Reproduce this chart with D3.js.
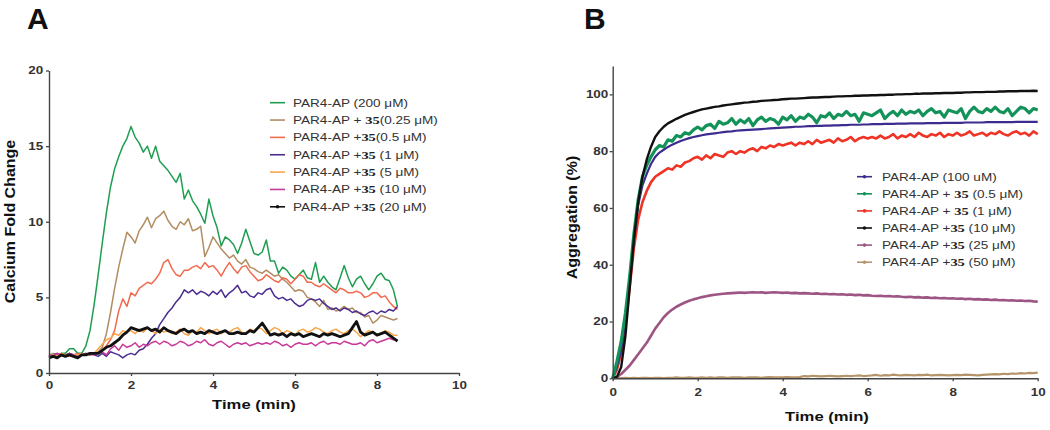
<!DOCTYPE html>
<html><head><meta charset="utf-8">
<script src="https://cdn.jsdelivr.net/npm/d3@7"></script>
<style>body{margin:0;background:#fff} svg{display:block}</style>
</head><body>
<svg id="c" width="1050" height="430"></svg>
<script>
// ---------------- Panel A data (calcium fold change, sampled every 0.1 min) ----------------
const stepA = 0.1;
const xTicksA = [0, 2, 4, 6, 8, 10];
const yTicksA = [0, 5, 10, 15, 20];
const greenA = [1.1,1.2,1.2,1.3,1.3,1.6,1.6,1.3,1.3,1.8,
 2.8,4.5,6.5,8.6,10.6,12.3,13.5,14.3,15.0,15.5,
 16.3,15.6,15.2,14.6,15.0,14.2,15.0,14.0,13.7,13.4,
 13.0,12.6,13.2,11.5,12.1,11.4,11.0,10.5,9.9,11.5,
 10.4,9.6,8.4,9.0,8.8,8.5,7.9,8.6,9.5,8.7,
 7.9,7.8,8.0,8.8,7.4,7.4,6.6,7.0,6.8,6.4,
 6.2,6.5,6.8,6.3,6.2,7.3,6.0,6.4,6.0,5.7,
 5.5,6.3,7.1,6.3,5.7,6.2,6.4,5.9,5.5,5.9,
 6.4,6.6,6.2,6.1,5.5,4.4];
const brownA = [1.2,1.3,1.2,1.1,1.2,1.3,1.2,1.3,1.2,1.3,
 1.2,1.3,1.4,1.7,2.6,4.0,5.6,7.0,8.2,9.3,
 9.0,8.6,9.4,9.8,10.3,9.6,10.2,10.4,10.7,10.1,
 9.7,9.5,10.0,9.8,10.2,9.4,9.5,9.7,7.7,8.3,
 9.0,8.6,8.2,7.9,7.6,7.8,7.4,7.2,7.5,7.0,
 6.9,6.7,6.6,6.8,6.6,6.4,6.5,6.2,6.0,5.7,
 5.4,5.5,5.4,5.0,4.9,4.7,4.4,4.8,4.2,4.3,
 4.1,4.2,4.4,4.2,4.3,4.0,4.0,3.7,3.8,3.3,
 3.5,3.8,3.7,3.6,3.5,3.6];
const redA = [1.2,1.1,1.2,1.3,1.2,1.1,1.2,1.3,1.2,1.3,
 1.2,1.3,1.3,1.5,1.8,2.2,2.8,4.1,4.9,4.4,
 5.3,5.1,5.6,5.8,6.0,5.9,6.2,6.6,7.3,7.5,
 6.9,6.5,6.4,6.8,6.8,7.0,7.1,6.9,7.3,7.0,
 7.1,6.8,6.4,6.9,7.3,6.9,6.6,7.0,7.1,6.7,
 6.4,6.1,6.2,6.5,6.3,6.1,6.0,6.3,6.2,5.9,
 6.2,6.5,6.4,6.0,6.0,5.8,5.7,5.9,5.7,5.5,
 5.3,5.6,5.5,5.3,5.3,5.4,5.3,5.0,5.1,5.3,
 5.3,5.0,5.1,4.7,4.4,4.2];
const purpleA = [1.1,1.2,1.3,1.2,1.2,1.3,1.2,1.2,1.3,1.2,
 1.3,1.2,1.1,1.3,1.1,1.4,1.3,1.2,1.0,1.2,
 1.3,1.2,1.5,1.6,1.9,2.3,2.6,3.2,3.6,4.0,
 4.3,4.7,5.0,5.5,5.3,5.5,5.2,5.4,5.3,5.1,
 5.4,5.2,5.5,5.0,5.3,5.5,5.8,5.3,5.4,5.1,
 5.0,5.3,5.2,5.5,5.6,5.1,4.9,5.0,4.8,4.9,
 4.6,4.4,4.5,4.8,4.9,4.8,4.9,4.6,4.4,4.2,
 4.3,4.1,4.3,4.2,4.0,4.1,3.9,3.8,4.0,4.1,
 3.9,4.1,4.0,4.2,4.1,4.4];
const orangeA = [1.1,1.2,1.1,1.3,1.2,1.1,1.2,1.2,1.3,1.2,
 1.3,1.3,1.6,1.9,2.2,2.3,2.6,2.5,2.8,2.7,
 2.8,2.6,2.9,2.7,3.0,2.8,2.6,2.9,2.7,2.8,
 2.6,2.7,2.9,2.6,2.5,2.8,2.7,3.0,2.8,2.6,
 2.8,2.9,2.6,2.8,2.7,2.9,3.0,2.7,2.6,2.9,
 2.8,3.0,2.9,2.6,2.8,3.0,2.9,2.6,2.8,2.7,
 2.5,2.8,2.9,2.7,2.8,3.0,2.9,2.7,2.6,2.8,
 2.9,2.7,2.6,2.8,2.9,2.7,2.4,2.6,2.8,2.7,
 2.5,2.6,2.8,2.7,2.5,2.5];
const magentaA = [1.2,1.1,1.3,1.2,1.1,1.3,1.2,1.1,1.2,1.3,
 1.2,1.2,1.3,1.4,1.2,1.6,1.8,1.5,1.9,1.7,
 1.8,2.0,1.7,1.9,1.8,2.0,2.1,1.9,2.1,2.0,
 1.8,1.9,2.1,2.0,1.8,1.9,2.1,2.0,2.2,1.9,
 1.8,2.0,2.1,1.9,1.7,1.9,2.0,1.9,2.0,1.8,
 1.9,2.0,1.9,2.0,1.9,2.1,2.0,1.8,1.9,1.7,
 1.9,2.0,1.9,1.9,2.0,1.8,2.0,2.1,1.9,2.0,
 2.0,1.9,2.1,2.0,1.9,1.9,2.0,1.8,2.1,2.2,
 2.0,2.1,2.2,2.3,2.2,2.2];
const blackA = [1.0,1.1,1.0,1.2,1.1,1.2,1.1,1.0,1.2,1.2,
 1.3,1.3,1.3,1.5,1.7,1.8,2.0,2.2,2.5,2.7,
 3.0,2.9,2.8,2.9,3.0,2.8,2.9,2.7,3.0,2.8,
 2.7,2.6,2.8,2.9,2.7,2.8,2.6,2.7,2.6,2.8,
 2.7,2.6,2.7,2.8,2.6,2.6,2.7,2.6,2.6,2.8,
 2.7,3.0,3.3,2.9,2.5,2.6,2.5,2.6,2.4,2.6,
 2.5,2.6,2.4,2.5,2.6,2.5,2.4,2.6,2.5,2.6,
 2.5,2.4,2.5,2.6,3.0,3.4,2.7,2.5,2.6,2.7,
 2.5,2.6,2.7,2.5,2.3,2.1];

// ---------------- Panel B data (aggregation %, sampled every 0.1 min) ----------------
const stepB = 0.1;
const xTicksB = [0, 2, 4, 6, 8, 10];
const yTicksB = [0, 20, 40, 60, 80, 100];
const purpleB = [0,4,10,20,34,49,61,68,72,75.5,
 78,79.5,80.5,81.5,82.3,83,83.6,84.1,84.6,85,
 85.3,85.6,85.9,86.1,86.3,86.5,86.7,86.9,87.0,87.2,
 87.3,87.4,87.5,87.6,87.7,87.8,87.9,88.0,88.1,88.2,
 88.3,88.4,88.5,88.6,88.6,88.7,88.8,88.8,88.9,88.9,
 89.0,89.0,89.1,89.1,89.2,89.2,89.3,89.3,89.3,89.4,
 89.4,89.5,89.5,89.5,89.6,89.6,89.6,89.7,89.7,89.7,
 89.8,89.8,89.8,89.8,89.9,89.9,89.9,89.9,90.0,90.0,
 90.0,90.0,90.0,90.1,90.1,90.1,90.1,90.1,90.2,90.2,
 90.2,90.2,90.2,90.2,90.2,90.3,90.3,90.3,90.3,90.3,
 90.3];
const greenB = [0,6,13,23,36,51,63,71,75,78,
 80.5,82,81.5,84,83.5,85.5,85,86.5,86,87.5,
 88.5,87.5,89,89.5,88,90.5,89.5,90,91.5,89.5,
 91,90,91.5,89,91,92,90.5,91.5,91,89.5,
 92,91,92.5,90.5,92,91.5,93,92,90,92.5,
 92,93.5,91.5,93,92.5,94,92.5,93,90.5,93.5,
 93,92.5,93.5,94.5,91.5,93,94,92.5,94.5,93,
 94,93.5,94.5,92.5,94,95,93.5,94,92,94.5,
 94,93.5,95,91.5,94,95.5,94,93.5,95,94,
 95.5,94,93.5,95,92.5,94,95.5,95,93.5,95,
 94.5];
const redB = [0,3,9,19,32,46,56,62,66,69,
 71,72,73,74,73.5,75,74.5,76,76.5,77.5,
 78,77,78.5,77.5,79,78.5,78,79.5,80,79,
 80,79.5,80.5,81,80,81.5,81,82,81.5,82.5,
 82,82.5,83,82,83,82.5,83.5,82.5,84,83,
 83.5,84,83,84.5,83.5,84,85,83.5,84.5,85,
 84.5,85,84.5,85.5,84.5,85,86,84.5,85.5,85,
 86,85,86.5,85.5,85,86,85.5,86.5,85,86,
 85.5,86.5,85.5,86,87,85.5,86,86.5,85.5,86.5,
 86,87,86,85.5,86.5,87,86,86.5,85.5,87,
 86];
const blackB = [0,0.5,4,15,32,49,62,71,77,81.5,
 85,87,88.6,89.8,90.6,91.4,92.1,92.8,93.3,93.8,
 94.3,94.7,95.0,95.3,95.6,95.8,96.1,96.3,96.5,96.7,
 96.9,97.1,97.2,97.4,97.5,97.7,97.8,97.9,98.0,98.1,
 98.3,98.4,98.5,98.5,98.6,98.7,98.8,98.9,98.9,99.0,
 99.1,99.1,99.2,99.3,99.3,99.4,99.4,99.5,99.5,99.6,
 99.6,99.7,99.7,99.8,99.8,99.9,99.9,100.0,100.0,100.1,
 100.1,100.2,100.2,100.3,100.3,100.3,100.4,100.4,100.5,100.5,
 100.5,100.6,100.6,100.7,100.7,100.8,100.8,100.8,100.9,100.9,
 100.9,101.0,101.0,101.1,101.1,101.1,101.2,101.2,101.2,101.3,
 101.2];
const mauveB = [0,0.5,1.5,3,4.5,6.5,8.5,10.5,12.5,15,
 17.5,19.5,21.5,23,24.2,25.2,26,26.7,27.3,27.8,
 28.2,28.6,28.9,29.2,29.4,29.6,29.8,29.9,30,30.1,
 30.2,30.1,30.2,30.3,30.2,30.3,30.1,30.2,30.3,30.2,
 30.1,30.2,30.0,30.1,29.9,30.0,29.9,29.8,29.9,29.7,
 29.8,29.6,29.7,29.5,29.6,29.4,29.5,29.3,29.4,29.2,
 29.3,29.1,29.0,29.1,28.9,29.0,28.8,28.9,28.7,28.6,
 28.7,28.5,28.6,28.4,28.5,28.3,28.4,28.2,28.3,28.1,
 28.2,28.0,28.1,27.9,28.0,27.8,27.9,27.7,27.8,27.6,
 27.7,27.5,27.6,27.4,27.5,27.3,27.4,27.2,27.3,27.1,
 27.0];
const tanB = [0,0.1,0.1,0.2,0.1,0.2,0.1,0.2,0.2,0.1,
 0.2,0.2,0.1,0.2,0.2,0.3,0.2,0.2,0.3,0.2,
 0.2,0.3,0.2,0.3,0.2,0.3,0.3,0.2,0.3,0.3,
 0.3,0.2,0.3,0.3,0.3,0.2,0.3,0.4,0.3,0.3,
 0.3,0.4,0.3,0.3,0.4,0.8,0.7,0.9,0.8,0.7,
 0.8,0.9,0.8,0.7,0.8,0.9,0.8,0.9,1.0,0.8,
 0.9,1.0,1.2,0.9,1.1,1.0,1.3,1.1,1.0,1.2,
 1.1,1.0,1.2,1.1,1.3,1.0,1.1,1.2,1.1,1.0,
 1.1,1.2,1.1,1.3,1.2,1.1,1.0,1.2,1.3,1.4,
 1.5,1.4,1.6,1.5,1.7,1.6,1.8,1.7,1.9,1.8,
 2.0];

// legend labels: [prefix, bold compound number, suffix]
const legendA = [
  ["PAR4-AP (200 \u03bcM)", "", ""],
  ["PAR4-AP + ", "35", "(0.25 \u03bcM)"],
  ["PAR4-AP +", "35", "(0.5 \u03bcM)"],
  ["PAR4-AP +", "35", " (1 \u03bcM)"],
  ["PAR4-AP +", "35", " (5 \u03bcM)"],
  ["PAR4-AP +", "35", " (10 \u03bcM)"],
  ["PAR4-AP +", "35", " (20 \u03bcM)"]
];
const legendB = [
  ["PAR4-AP (100 uM)", "", ""],
  ["PAR4-AP + ", "35", " (0.5 \u03bcM)"],
  ["PAR4-AP + ", "35", " (1 \u03bcM)"],
  ["PAR4-AP +", "35", " (10 \u03bcM)"],
  ["PAR4-AP +", "35", " (25 \u03bcM)"],
  ["PAR4-AP +", "35", " (50 \u03bcM)"]
];

// ---------------- drawing ----------------
const svg = d3.select("#c");
const SX = 1.28;
const FONT = "'Liberation Sans', Arial, Helvetica, sans-serif";
const TXT = "#333";

function styleAxis(g, side, gap) {
  g.select(".domain").attr("stroke", "#444").attr("stroke-width", 1.4);
  g.selectAll(".tick line").attr("stroke", "#444").attr("stroke-width", 1.3);
  const t = g.selectAll(".tick text")
    .attr("fill", TXT).attr("font-family", FONT).attr("font-weight", "bold")
    .attr("font-size", 10.5).attr("transform", `scale(${SX},1)`);
  if (side === "left") t.attr("x", -gap / SX);
}

function drawPanel(o) {
  const g = svg.append("g");
  const x = d3.scaleLinear().domain(o.xDom).range(o.xRange);
  const y = d3.scaleLinear().domain(o.yDom).range(o.yRange);

  const line = (step) => d3.line().x((d, i) => x(i * step)).y(d => y(d));
  o.series.forEach(s => {
    g.append("path").datum(s.values)
      .attr("fill", "none").attr("stroke", s.color)
      .attr("stroke-width", s.width).attr("stroke-linejoin", "round")
      .attr("d", line(o.step));
  });

  const ax = g.append("g").attr("transform", `translate(0,${o.yRange[0]})`)
    .call(d3.axisBottom(x).tickValues(o.xTicks).tickSize(3).tickSizeOuter(0).tickPadding(o.xPad));
  styleAxis(ax, "bottom");
  const ay = g.append("g").attr("transform", `translate(${o.xRange[0]},0)`)
    .call(d3.axisLeft(y).tickValues(o.yTicks).tickSize(3).tickSizeOuter(0));
  styleAxis(ay, "left", o.yGap);

  g.append("text").attr("x", o.letterX).attr("y", 29).text(o.letter)
    .attr("font-family", FONT).attr("font-weight", "bold").attr("font-size", 30).attr("fill", "#111");
  g.append("text").attr("transform", `translate(${o.xTitleX},${o.xTitleY}) scale(${SX},1)`)
    .attr("text-anchor", "middle").text("Time (min)")
    .attr("font-family", FONT).attr("font-weight", "bold").attr("font-size", 13).attr("fill", "#111");
  g.append("text").attr("transform", `translate(${o.yTitleX},${o.yTitleY}) rotate(-90) scale(1,0.86)`)
    .attr("text-anchor", "middle").text(o.yTitle)
    .attr("font-family", FONT).attr("font-weight", "bold").attr("font-size", 16).attr("fill", "#111");

  const lg = g.append("g");
  o.legend.forEach((lab, i) => {
    const s = o.legendSeries[i];
    const cy = o.legY + i * o.legDy;
    lg.append("line").attr("x1", o.legX).attr("x2", o.legX + 15).attr("y1", cy).attr("y2", cy)
      .attr("stroke", s.color).attr("stroke-width", 1.6);
    if (s.dot) lg.append("circle").attr("cx", o.legX + 7.5).attr("cy", cy).attr("r", 1.8).attr("fill", s.color);
    const t = lg.append("text").attr("transform", `translate(${o.legX + o.legTx},${cy + 3.8}) scale(${SX},1)`)
      .attr("font-family", FONT).attr("font-size", 10.6).attr("fill", TXT);
    t.append("tspan").text(lab[0]);
    if (lab[1]) {
      t.append("tspan").text(lab[1]).attr("font-family", "'Liberation Serif', 'Times New Roman', serif")
        .attr("font-weight", "bold").attr("font-size", 11.3).attr("fill", "#222");
      t.append("tspan").text(lab[2]);
    }
  });
}

const cA = {green:"#1f9e52", brown:"#b38d62", red:"#f26a4e", purple:"#4b2d8f", orange:"#f9a64b", magenta:"#c8399a", black:"#111"};
const sA = [
  {values: greenA, color: cA.green, width: 1.5},
  {values: brownA, color: cA.brown, width: 1.5},
  {values: redA, color: cA.red, width: 1.5},
  {values: purpleA, color: cA.purple, width: 1.5},
  {values: orangeA, color: cA.orange, width: 1.5},
  {values: magentaA, color: cA.magenta, width: 1.5},
  {values: blackA, color: cA.black, width: 2.8, dot: true}
];
drawPanel({
  xDom: [0, 10], xRange: [49, 459], yDom: [0, 20], yRange: [373, 70.5],
  step: stepA, series: sA, xTicks: xTicksA, yTicks: yTicksA, xPad: 6, yGap: 5.7,
  letter: "A", letterX: 27, xTitleX: 254, xTitleY: 409,
  yTitle: "Calcium Fold Change", yTitleX: 14.5, yTitleY: 221.5,
  legend: legendA, legendSeries: sA, legX: 270, legY: 102.7, legDy: 17.35, legTx: 23
});

const cB = {purple:"#3d2b8f", green:"#13935a", red:"#ef3325", black:"#111", mauve:"#9d5583", tan:"#b5946a"};
const sBdraw = [
  {values: tanB, color: cB.tan, width: 2.2},
  {values: mauveB, color: cB.mauve, width: 2.6},
  {values: redB, color: cB.red, width: 2.6},
  {values: purpleB, color: cB.purple, width: 2.2},
  {values: greenB, color: cB.green, width: 3.2},
  {values: blackB, color: cB.black, width: 2.4}
];
const sBleg = [
  {color: cB.purple, dot: true}, {color: cB.green, dot: true}, {color: cB.red, dot: true},
  {color: cB.black, dot: true}, {color: cB.mauve, dot: true}, {color: cB.tan, dot: true}
];
drawPanel({
  xDom: [0, 10], xRange: [612.7, 1037.7], yDom: [0, 110], yRange: [378.3, 66],
  step: stepB, series: sBdraw, xTicks: xTicksB, yTicks: yTicksB, xPad: 7.2, yGap: 4.4,
  letter: "B", letterX: 584, xTitleX: 827, xTitleY: 421,
  yTitle: "Aggregation (%)", yTitleX: 577, yTitleY: 217.5,
  legend: legendB, legendSeries: sBleg, legX: 857, legY: 176.7, legDy: 17.1, legTx: 25
});
</script>
</body></html>
